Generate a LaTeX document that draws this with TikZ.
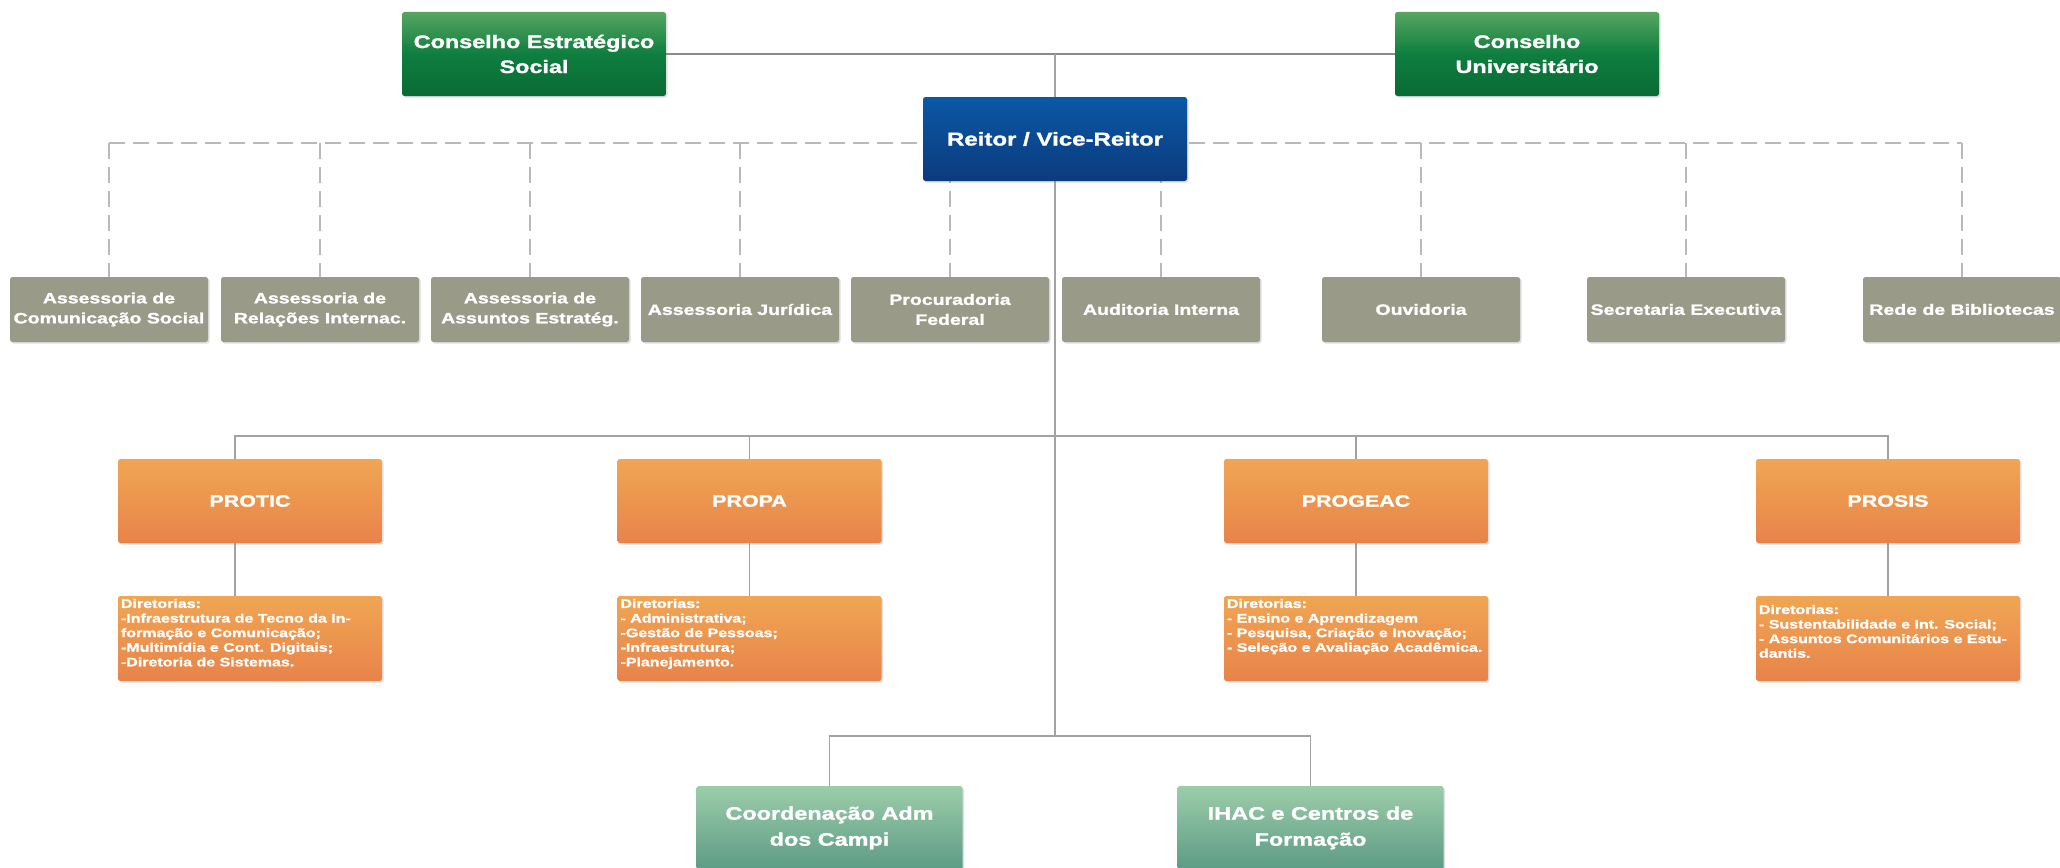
\documentclass[tikz,border=0pt]{standalone}
\usepackage{fontspec}
\setmainfont{Liberation Sans}[FakeStretch=1.3, BoldFeatures={FakeBold=1.5}]
\usetikzlibrary{positioning,shadows,backgrounds}

\definecolor{verdetopo}{HTML}{58A561}
\definecolor{verdemeio}{HTML}{0E7E3F}
\definecolor{verdebase}{HTML}{0A6A34}
\definecolor{azultopo}{HTML}{0A58A5}
\definecolor{azulbase}{HTML}{0C3B7D}
\definecolor{cinzabox}{HTML}{9A9A88}
\definecolor{laranjatopo}{HTML}{F0A653}
\definecolor{laranjabase}{HTML}{E8834A}
\definecolor{campustopo}{HTML}{9CCDA9}
\definecolor{campusbase}{HTML}{5C9B85}
\definecolor{linhacor}{HTML}{A2A2A2}
\definecolor{tracocor}{HTML}{B9B9B9}

\newcommand{\dirbox}[1]{\parbox[c][79pt][t]{258pt}{\raggedright #1}}

\begin{document}
\begin{tikzpicture}[x=1pt,y=-1pt,
    caixa/.style={rounded corners=2.5pt, text=white, align=center, inner sep=2pt,
      drop shadow={shadow xshift=1.5pt, shadow yshift=-1.5pt, opacity=.25}},
    conselho/.style={caixa, minimum width=264pt, minimum height=84pt,
      top color=verdetopo, bottom color=verdebase, middle color=verdemeio,
      font=\bfseries\fontsize{18}{25}\selectfont},
    reitoria/.style={caixa, minimum width=264pt, minimum height=84pt,
      top color=azultopo, bottom color=azulbase,
      font=\bfseries\fontsize{18.5}{24}\selectfont},
    assessoria/.style={caixa, fill=cinzabox, minimum width=198pt, minimum height=65pt,
      font=\bfseries\fontsize{15}{20}\selectfont},
    pro/.style={caixa, minimum width=264pt, minimum height=84pt,
      top color=laranjatopo, bottom color=laranjabase,
      font=\bfseries\fontsize{16.5}{22}\selectfont},
    diretoria/.style={caixa, minimum width=264pt, minimum height=85pt, inner sep=3pt,
      top color=laranjatopo, bottom color=laranjabase, align=left,
      font=\bfseries\fontsize{12.3}{14.6}\selectfont},
    campus/.style={caixa, minimum width=266pt, minimum height=84pt,
      top color=campustopo, bottom color=campusbase,
      font=\bfseries\fontsize{18}{26}\selectfont},
    linha/.style={draw=linhacor, line width=1.3pt},
    tracejada/.style={draw=tracocor, line width=1.6pt, dash pattern=on 16pt off 8pt}]

  \useasboundingbox (0,0) rectangle (2060,867);

  % Conselhos e Reitoria
  \node[conselho] (ces) at (534,54) {Conselho Estratégico\\Social};
  \node[conselho] (cu) at (1527,54) {Conselho\\Universitário};
  \node[reitoria] (reitor) at (1055,139) {Reitor / Vice-Reitor};

  % Orgaos de assessoramento
  \node[assessoria] (g1) at (109,309.5) {Assessoria de\\Comunicação Social};
  \node[assessoria] (g2) at (320,309.5) {Assessoria de\\Relações Internac.};
  \node[assessoria] (g3) at (530,309.5) {Assessoria de\\Assuntos Estratég.};
  \node[assessoria] (g4) at (740,309.5) {Assessoria Jurídica};
  \node[assessoria] (g5) at (950,309.5) {Procuradoria\\Federal};
  \node[assessoria] (g6) at (1161,309.5) {Auditoria Interna};
  \node[assessoria] (g7) at (1421,309.5) {Ouvidoria};
  \node[assessoria] (g8) at (1686,309.5) {Secretaria Executiva};
  \node[assessoria] (g9) at (1962,309.5) {Rede de Bibliotecas};

  % Pro-reitorias
  \node[pro] (protic) at (250,501) {PROTIC};
  \node[pro] (propa) at (749.5,501) {PROPA};
  \node[pro] (progeac) at (1356,501) {PROGEAC};
  \node[pro] (prosis) at (1888,501) {PROSIS};

  % Diretorias
  \node[diretoria] (dprotic) at (250,638.5) {\dirbox{Diretorias:\\-Infraestrutura de Tecno da In-\\formação e Comunicação;\\-Multimídia e Cont. Digitais;\\-Diretoria de Sistemas.}};
  \node[diretoria] (dpropa) at (749.5,638.5) {\dirbox{Diretorias:\\- Administrativa;\\-Gestão de Pessoas;\\-Infraestrutura;\\-Planejamento.}};
  \node[diretoria] (dprogeac) at (1356,638.5) {\dirbox{Diretorias:\\- Ensino e Aprendizagem\\- Pesquisa, Criação e Inovação;\\- Seleção e Avaliação Acadêmica.}};
  \node[diretoria] (dprosis) at (1888,638.5) {\dirbox{\vspace{6pt}Diretorias:\\- Sustentabilidade e Int. Social;\\- Assuntos Comunitários e Estu-\\dantis.}};

  % Campi e centros
  \node[campus] (coord) at (829.5,828) {Coordenação Adm\\dos Campi};
  \node[campus] (ihac) at (1310.5,828) {IHAC e Centros de\\Formação};

  \begin{scope}[on background layer]
    % ligacoes do topo
    \draw[linha, draw=linhacor!85!black] (ces.east) -- (cu.west);
    \draw[linha] (reitor.north) -- (reitor.north |- ces.east);
    % assessorias (tracejado)
    \coordinate (nivelA) at (0,143);
    \draw[tracejada] (g1.north |- nivelA) -- (g9.north |- nivelA);
    \foreach \g in {g1,g2,g3,g4,g5,g6,g7,g8,g9}
      \draw[tracejada] (\g.north |- nivelA) -- (\g.north);
    % tronco central
    \coordinate (nivelB) at (0,436);
    \coordinate (nivelC) at (0,736);
    \draw[linha] (reitor.south) -- (reitor.south |- nivelC);
    \draw[linha] ([xshift=-15pt]protic.north) -- ([xshift=-15pt]protic.north |- nivelB)
      -- (prosis.north |- nivelB) -- (prosis.north);
    \foreach \p in {propa,progeac}
      \draw[linha] (\p.north) -- (\p.north |- nivelB);
    \draw[linha] ([xshift=-15pt]protic.south) -- ([xshift=-15pt]dprotic.north);
    \foreach \p in {propa,progeac,prosis}
      \draw[linha] (\p.south) -- (d\p.north);
    \draw[linha] (coord.north) -- (coord.north |- nivelC) -- (ihac.north |- nivelC) -- (ihac.north);
  \end{scope}
\end{tikzpicture}
\end{document}
